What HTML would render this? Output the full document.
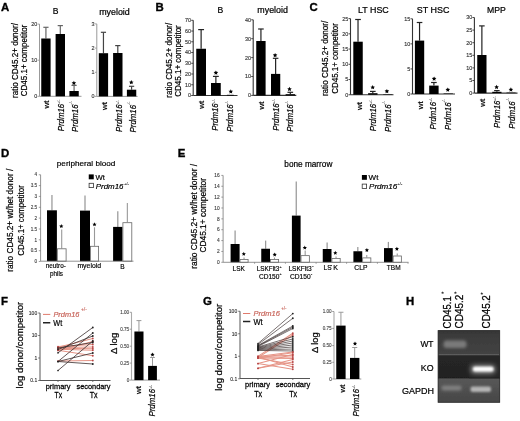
<!DOCTYPE html>
<html><head><meta charset="utf-8"><style>
html,body{margin:0;padding:0;background:#fff;}
svg{display:block;will-change:transform;filter:blur(0.4px);}
text{font-family:"Liberation Sans", sans-serif;}
</style></head><body>
<svg width="520" height="421" viewBox="0 0 520 421">
<rect width="520" height="421" fill="#fff"/>
<text x="1" y="11.2" font-size="11.4" stroke="#000" stroke-width="0.35" font-weight="bold" >A</text>
<text x="155.4" y="10.9" font-size="11.4" stroke="#000" stroke-width="0.35" font-weight="bold" >B</text>
<text x="309.6" y="10.9" font-size="11.4" stroke="#000" stroke-width="0.35" font-weight="bold" >C</text>
<text x="1" y="157.2" font-size="11.4" stroke="#000" stroke-width="0.35" font-weight="bold" >D</text>
<text x="177.8" y="157.3" font-size="11.4" stroke="#000" stroke-width="0.35" font-weight="bold" >E</text>
<text x="1" y="305.2" font-size="11.4" stroke="#000" stroke-width="0.35" font-weight="bold" >F</text>
<text x="203" y="305.4" font-size="11.4" stroke="#000" stroke-width="0.35" font-weight="bold" >G</text>
<text x="406" y="305.2" font-size="11.4" stroke="#000" stroke-width="0.35" font-weight="bold" >H</text>
<text transform="translate(18.3,60.5) rotate(-90)" font-size="9" stroke="#000" stroke-width="0.22" text-anchor="middle" textLength="75" lengthAdjust="spacingAndGlyphs">ratio CD45.2+ donor/</text>
<text transform="translate(27.4,60.5) rotate(-90)" font-size="9" stroke="#000" stroke-width="0.22" text-anchor="middle" textLength="71.6" lengthAdjust="spacingAndGlyphs">CD45.1+ competitor</text>
<text x="52.8" y="13.6" font-size="8.6" stroke="#000" stroke-width="0.21" >B</text>
<line x1="39.5" y1="24.1" x2="39.5" y2="96.3" stroke="#999" stroke-width="1.0" />
<line x1="37.5" y1="24.1" x2="39.5" y2="24.1" stroke="#999" stroke-width="0.9" />
<text x="37.3" y="26" font-size="5.4" stroke="#333" stroke-width="0.13" text-anchor="end" fill="#333" >20</text>
<line x1="37.5" y1="60.2" x2="39.5" y2="60.2" stroke="#999" stroke-width="0.9" />
<text x="37.3" y="62.1" font-size="5.4" stroke="#333" stroke-width="0.13" text-anchor="end" fill="#333" >10</text>
<line x1="37.5" y1="96.3" x2="39.5" y2="96.3" stroke="#999" stroke-width="0.9" />
<text x="37.3" y="98.2" font-size="5.4" stroke="#333" stroke-width="0.13" text-anchor="end" fill="#333" >0</text>
<line x1="39.5" y1="96.3" x2="81.5" y2="96.3" stroke="#999" stroke-width="1.0" />
<line x1="45.92" y1="27.3" x2="45.92" y2="38.5" stroke="#666" stroke-width="1.2" />
<line x1="43.31" y1="27.3" x2="48.54" y2="27.3" stroke="#666" stroke-width="1.2" />
<rect x="41.25" y="38.5" width="9.35" height="57.8" fill="#000"/>
<line x1="60.3" y1="25.6" x2="60.3" y2="34" stroke="#666" stroke-width="1.2" />
<line x1="57.67" y1="25.6" x2="62.93" y2="25.6" stroke="#666" stroke-width="1.2" />
<rect x="55.6" y="34" width="9.4" height="62.3" fill="#000"/>
<line x1="74.08" y1="85.4" x2="74.08" y2="91" stroke="#666" stroke-width="1.2" />
<line x1="71.46" y1="85.4" x2="76.69" y2="85.4" stroke="#666" stroke-width="1.2" />
<rect x="69.4" y="91" width="9.35" height="5.3" fill="#000"/>
<polygon points="73.9,80.7 74.58,82.17 76.18,82.36 75,83.46 75.31,85.04 73.9,84.25 72.49,85.04 72.8,83.46 71.62,82.36 73.22,82.17" fill="#000"/>
<text x="99.2" y="14.6" font-size="9" stroke="#000" stroke-width="0.22" textLength="30.6" lengthAdjust="spacingAndGlyphs" >myeloid</text>
<line x1="96.8" y1="23.9" x2="96.8" y2="96.4" stroke="#999" stroke-width="1.0" />
<line x1="94.8" y1="23.9" x2="96.8" y2="23.9" stroke="#999" stroke-width="0.9" />
<text x="94.6" y="25.8" font-size="5.4" stroke="#333" stroke-width="0.13" text-anchor="end" fill="#333" >3</text>
<line x1="94.8" y1="48.1" x2="96.8" y2="48.1" stroke="#999" stroke-width="0.9" />
<text x="94.6" y="50" font-size="5.4" stroke="#333" stroke-width="0.13" text-anchor="end" fill="#333" >2</text>
<line x1="94.8" y1="72.3" x2="96.8" y2="72.3" stroke="#999" stroke-width="0.9" />
<text x="94.6" y="74.2" font-size="5.4" stroke="#333" stroke-width="0.13" text-anchor="end" fill="#333" >1</text>
<line x1="94.8" y1="96.4" x2="96.8" y2="96.4" stroke="#999" stroke-width="0.9" />
<text x="94.6" y="98.3" font-size="5.4" stroke="#333" stroke-width="0.13" text-anchor="end" fill="#333" >0</text>
<line x1="96.8" y1="96.4" x2="137.6" y2="96.4" stroke="#999" stroke-width="1.0" />
<line x1="103.45" y1="32.3" x2="103.45" y2="53.2" stroke="#444" stroke-width="1.2" />
<line x1="100.85" y1="32.3" x2="106.05" y2="32.3" stroke="#444" stroke-width="1.2" />
<rect x="98.8" y="53.2" width="9.3" height="43.2" fill="#000"/>
<line x1="117.8" y1="45.6" x2="117.8" y2="53" stroke="#444" stroke-width="1.2" />
<line x1="115.17" y1="45.6" x2="120.43" y2="45.6" stroke="#444" stroke-width="1.2" />
<rect x="113.1" y="53" width="9.4" height="43.4" fill="#000"/>
<line x1="131.57" y1="86.3" x2="131.57" y2="89.7" stroke="#444" stroke-width="1.2" />
<line x1="128.96" y1="86.3" x2="134.19" y2="86.3" stroke="#444" stroke-width="1.2" />
<rect x="126.9" y="89.7" width="9.35" height="6.7" fill="#000"/>
<polygon points="131.3,80 131.98,81.47 133.58,81.66 132.4,82.76 132.71,84.34 131.3,83.55 129.89,84.34 130.2,82.76 129.02,81.66 130.62,81.47" fill="#000"/>
<text transform="translate(48.7,100.6) rotate(-90)" font-size="7.83" stroke="#000" stroke-width="0.19" text-anchor="end" textLength="8" lengthAdjust="spacingAndGlyphs">wt</text>
<text transform="translate(63.6,131.3) rotate(-90)" font-size="8.6" stroke="#000" stroke-width="0.21" font-style="italic" textLength="27.5" lengthAdjust="spacingAndGlyphs">Prdm16</text>
<text transform="translate(59.8,103.9) rotate(-90)" font-size="3.6" stroke="#333" stroke-width="0.09" fill="#333">+/-</text>
<text transform="translate(78,131.9) rotate(-90)" font-size="8.6" stroke="#000" stroke-width="0.21" font-style="italic" textLength="27.5" lengthAdjust="spacingAndGlyphs">Prdm16</text>
<text transform="translate(72.2,104.5) rotate(-90)" font-size="3.6" stroke="#333" stroke-width="0.09" fill="#333">-/-</text>
<text transform="translate(107.4,101.9) rotate(-90)" font-size="7.83" stroke="#000" stroke-width="0.19" text-anchor="end" textLength="8" lengthAdjust="spacingAndGlyphs">wt</text>
<text transform="translate(122.4,131.9) rotate(-90)" font-size="8.6" stroke="#000" stroke-width="0.21" font-style="italic" textLength="27.5" lengthAdjust="spacingAndGlyphs">Prdm16</text>
<text transform="translate(118.6,104.5) rotate(-90)" font-size="3.6" stroke="#333" stroke-width="0.09" fill="#333">+/-</text>
<text transform="translate(136.2,132.4) rotate(-90)" font-size="8.6" stroke="#000" stroke-width="0.21" font-style="italic" textLength="27.5" lengthAdjust="spacingAndGlyphs">Prdm16</text>
<text transform="translate(130.4,105) rotate(-90)" font-size="3.6" stroke="#333" stroke-width="0.09" fill="#333">-/-</text>
<text transform="translate(172,60.2) rotate(-90)" font-size="8.6" stroke="#000" stroke-width="0.21" text-anchor="middle" textLength="75" lengthAdjust="spacingAndGlyphs">ratio CD45.2+ donor/</text>
<text transform="translate(181,61) rotate(-90)" font-size="8.6" stroke="#000" stroke-width="0.21" text-anchor="middle" textLength="71.6" lengthAdjust="spacingAndGlyphs">CD45.1+ competitor</text>
<text x="217.6" y="12.6" font-size="8.6" stroke="#000" stroke-width="0.21" >B</text>
<line x1="193.2" y1="20.3" x2="193.2" y2="95.5" stroke="#333" stroke-width="1.1" />
<line x1="191.2" y1="20.3" x2="193.2" y2="20.3" stroke="#333" stroke-width="0.9" />
<text x="191" y="22.2" font-size="5.4" stroke="#333" stroke-width="0.13" text-anchor="end" fill="#333" >70</text>
<line x1="191.2" y1="31.04" x2="193.2" y2="31.04" stroke="#333" stroke-width="0.9" />
<text x="191" y="32.94" font-size="5.4" stroke="#333" stroke-width="0.13" text-anchor="end" fill="#333" >60</text>
<line x1="191.2" y1="41.79" x2="193.2" y2="41.79" stroke="#333" stroke-width="0.9" />
<text x="191" y="43.69" font-size="5.4" stroke="#333" stroke-width="0.13" text-anchor="end" fill="#333" >50</text>
<line x1="191.2" y1="52.53" x2="193.2" y2="52.53" stroke="#333" stroke-width="0.9" />
<text x="191" y="54.43" font-size="5.4" stroke="#333" stroke-width="0.13" text-anchor="end" fill="#333" >40</text>
<line x1="191.2" y1="63.27" x2="193.2" y2="63.27" stroke="#333" stroke-width="0.9" />
<text x="191" y="65.17" font-size="5.4" stroke="#333" stroke-width="0.13" text-anchor="end" fill="#333" >30</text>
<line x1="191.2" y1="74.01" x2="193.2" y2="74.01" stroke="#333" stroke-width="0.9" />
<text x="191" y="75.91" font-size="5.4" stroke="#333" stroke-width="0.13" text-anchor="end" fill="#333" >20</text>
<line x1="191.2" y1="84.76" x2="193.2" y2="84.76" stroke="#333" stroke-width="0.9" />
<text x="191" y="86.66" font-size="5.4" stroke="#333" stroke-width="0.13" text-anchor="end" fill="#333" >10</text>
<line x1="191.2" y1="95.5" x2="193.2" y2="95.5" stroke="#333" stroke-width="0.9" />
<text x="191" y="97.4" font-size="5.4" stroke="#333" stroke-width="0.13" text-anchor="end" fill="#333" >0</text>
<line x1="193.2" y1="95.5" x2="237.5" y2="95.5" stroke="#333" stroke-width="1.1" />
<line x1="201.12" y1="29.6" x2="201.12" y2="48.75" stroke="#222" stroke-width="1.2" />
<line x1="198.2" y1="29.6" x2="204.05" y2="29.6" stroke="#222" stroke-width="1.2" />
<rect x="196.25" y="48.75" width="9.75" height="46.75" fill="#000"/>
<line x1="215.88" y1="76.4" x2="215.88" y2="83" stroke="#222" stroke-width="1.2" />
<line x1="212.95" y1="76.4" x2="218.8" y2="76.4" stroke="#222" stroke-width="1.2" />
<rect x="211" y="83" width="9.75" height="12.5" fill="#000"/>
<polygon points="215.9,70.4 216.58,71.87 218.18,72.06 217,73.16 217.31,74.74 215.9,73.95 214.49,74.74 214.8,73.16 213.62,72.06 215.22,71.87" fill="#000"/>
<rect x="226.9" y="94.8" width="6.85" height="0.7" fill="#000"/>
<polygon points="230.8,89.2 231.48,90.67 233.08,90.86 231.9,91.96 232.21,93.54 230.8,92.75 229.39,93.54 229.7,91.96 228.52,90.86 230.12,90.67" fill="#000"/>
<text x="257.3" y="13.2" font-size="9" stroke="#000" stroke-width="0.22" textLength="30.6" lengthAdjust="spacingAndGlyphs" >myeloid</text>
<line x1="253.2" y1="19.8" x2="253.2" y2="95.4" stroke="#333" stroke-width="1.1" />
<line x1="251.2" y1="19.8" x2="253.2" y2="19.8" stroke="#333" stroke-width="0.9" />
<text x="251" y="21.7" font-size="5.4" stroke="#333" stroke-width="0.13" text-anchor="end" fill="#333" >40</text>
<line x1="251.2" y1="38.7" x2="253.2" y2="38.7" stroke="#333" stroke-width="0.9" />
<text x="251" y="40.6" font-size="5.4" stroke="#333" stroke-width="0.13" text-anchor="end" fill="#333" >30</text>
<line x1="251.2" y1="57.6" x2="253.2" y2="57.6" stroke="#333" stroke-width="0.9" />
<text x="251" y="59.5" font-size="5.4" stroke="#333" stroke-width="0.13" text-anchor="end" fill="#333" >20</text>
<line x1="251.2" y1="76.5" x2="253.2" y2="76.5" stroke="#333" stroke-width="0.9" />
<text x="251" y="78.4" font-size="5.4" stroke="#333" stroke-width="0.13" text-anchor="end" fill="#333" >10</text>
<line x1="251.2" y1="95.4" x2="253.2" y2="95.4" stroke="#333" stroke-width="0.9" />
<text x="251" y="97.3" font-size="5.4" stroke="#333" stroke-width="0.13" text-anchor="end" fill="#333" >0</text>
<line x1="253.2" y1="95.4" x2="296.3" y2="95.4" stroke="#333" stroke-width="1.1" />
<line x1="260.93" y1="29" x2="260.93" y2="41" stroke="#222" stroke-width="1.2" />
<line x1="258.12" y1="29" x2="263.73" y2="29" stroke="#222" stroke-width="1.2" />
<rect x="256.25" y="41" width="9.35" height="54.4" fill="#000"/>
<line x1="275.62" y1="58.3" x2="275.62" y2="73.9" stroke="#222" stroke-width="1.2" />
<line x1="272.85" y1="58.3" x2="278.4" y2="58.3" stroke="#222" stroke-width="1.2" />
<rect x="271" y="73.9" width="9.25" height="21.5" fill="#000"/>
<polygon points="275.1,52.9 275.78,54.37 277.38,54.56 276.2,55.66 276.51,57.24 275.1,56.45 273.69,57.24 274,55.66 272.82,54.56 274.42,54.37" fill="#000"/>
<line x1="290.3" y1="92.3" x2="290.3" y2="94.2" stroke="#222" stroke-width="1.2" />
<line x1="287.48" y1="92.3" x2="293.12" y2="92.3" stroke="#222" stroke-width="1.2" />
<rect x="285.6" y="94.2" width="9.4" height="1.2" fill="#000"/>
<polygon points="289.5,86.8 290.18,88.27 291.78,88.46 290.6,89.56 290.91,91.14 289.5,90.35 288.09,91.14 288.4,89.56 287.22,88.46 288.82,88.27" fill="#000"/>
<text transform="translate(204,100.8) rotate(-90)" font-size="7.83" stroke="#000" stroke-width="0.19" text-anchor="end" textLength="8" lengthAdjust="spacingAndGlyphs">wt</text>
<text transform="translate(218.4,130.8) rotate(-90)" font-size="8.6" stroke="#000" stroke-width="0.21" font-style="italic" textLength="27.5" lengthAdjust="spacingAndGlyphs">Prdm16</text>
<text transform="translate(214.6,103.4) rotate(-90)" font-size="3.6" stroke="#333" stroke-width="0.09" fill="#333">+/-</text>
<text transform="translate(233.4,131.8) rotate(-90)" font-size="8.6" stroke="#000" stroke-width="0.21" font-style="italic" textLength="27.5" lengthAdjust="spacingAndGlyphs">Prdm16</text>
<text transform="translate(227.6,104.4) rotate(-90)" font-size="3.6" stroke="#333" stroke-width="0.09" fill="#333">-/-</text>
<text transform="translate(264.3,101.4) rotate(-90)" font-size="7.83" stroke="#000" stroke-width="0.19" text-anchor="end" textLength="8" lengthAdjust="spacingAndGlyphs">wt</text>
<text transform="translate(278.9,130.8) rotate(-90)" font-size="8.6" stroke="#000" stroke-width="0.21" font-style="italic" textLength="27.5" lengthAdjust="spacingAndGlyphs">Prdm16</text>
<text transform="translate(275.1,103.4) rotate(-90)" font-size="3.6" stroke="#333" stroke-width="0.09" fill="#333">+/-</text>
<text transform="translate(293.4,131.8) rotate(-90)" font-size="8.6" stroke="#000" stroke-width="0.21" font-style="italic" textLength="27.5" lengthAdjust="spacingAndGlyphs">Prdm16</text>
<text transform="translate(287.6,104.4) rotate(-90)" font-size="3.6" stroke="#333" stroke-width="0.09" fill="#333">-/-</text>
<text transform="translate(327.9,58.4) rotate(-90)" font-size="9" stroke="#000" stroke-width="0.22" text-anchor="middle" textLength="75.4" lengthAdjust="spacingAndGlyphs">ratio CD45.2+ donor/</text>
<text transform="translate(338.3,58.4) rotate(-90)" font-size="9" stroke="#000" stroke-width="0.22" text-anchor="middle" textLength="70.6" lengthAdjust="spacingAndGlyphs">CD45.1+ competitor</text>
<text x="358" y="13.1" font-size="9" stroke="#000" stroke-width="0.22" textLength="30.7" lengthAdjust="spacingAndGlyphs" >LT HSC</text>
<line x1="350.5" y1="18.6" x2="350.5" y2="94.75" stroke="#333" stroke-width="1.1" />
<line x1="348.5" y1="18.6" x2="350.5" y2="18.6" stroke="#333" stroke-width="0.9" />
<text x="348.3" y="20.5" font-size="5.4" stroke="#333" stroke-width="0.13" text-anchor="end" fill="#333" >25</text>
<line x1="348.5" y1="33.83" x2="350.5" y2="33.83" stroke="#333" stroke-width="0.9" />
<text x="348.3" y="35.73" font-size="5.4" stroke="#333" stroke-width="0.13" text-anchor="end" fill="#333" >20</text>
<line x1="348.5" y1="49.06" x2="350.5" y2="49.06" stroke="#333" stroke-width="0.9" />
<text x="348.3" y="50.96" font-size="5.4" stroke="#333" stroke-width="0.13" text-anchor="end" fill="#333" >15</text>
<line x1="348.5" y1="64.29" x2="350.5" y2="64.29" stroke="#333" stroke-width="0.9" />
<text x="348.3" y="66.19" font-size="5.4" stroke="#333" stroke-width="0.13" text-anchor="end" fill="#333" >10</text>
<line x1="348.5" y1="79.52" x2="350.5" y2="79.52" stroke="#333" stroke-width="0.9" />
<text x="348.3" y="81.42" font-size="5.4" stroke="#333" stroke-width="0.13" text-anchor="end" fill="#333" >5</text>
<line x1="348.5" y1="94.75" x2="350.5" y2="94.75" stroke="#333" stroke-width="0.9" />
<text x="348.3" y="96.65" font-size="5.4" stroke="#333" stroke-width="0.13" text-anchor="end" fill="#333" >0</text>
<line x1="350.5" y1="94.75" x2="393.5" y2="94.75" stroke="#333" stroke-width="1.1" />
<line x1="358.02" y1="19.5" x2="358.02" y2="41.7" stroke="#222" stroke-width="1.2" />
<line x1="355.19" y1="19.5" x2="360.86" y2="19.5" stroke="#222" stroke-width="1.2" />
<rect x="353.3" y="41.7" width="9.45" height="53.05" fill="#000"/>
<line x1="372.8" y1="91.4" x2="372.8" y2="93.2" stroke="#222" stroke-width="1.2" />
<line x1="369.98" y1="91.4" x2="375.62" y2="91.4" stroke="#222" stroke-width="1.2" />
<rect x="368.1" y="93.2" width="9.4" height="1.55" fill="#000"/>
<polygon points="372.7,85 373.38,86.47 374.98,86.66 373.8,87.76 374.11,89.34 372.7,88.55 371.29,89.34 371.6,87.76 370.42,86.66 372.02,86.47" fill="#000"/>
<rect x="383.2" y="94.3" width="9.2" height="0.45" fill="#000"/>
<polygon points="386.9,88.9 387.58,90.37 389.18,90.56 388,91.66 388.31,93.24 386.9,92.45 385.49,93.24 385.8,91.66 384.62,90.56 386.22,90.37" fill="#000"/>
<text x="416.8" y="13.1" font-size="9" stroke="#000" stroke-width="0.22" textLength="32.6" lengthAdjust="spacingAndGlyphs" >ST HSC</text>
<line x1="412.5" y1="18.8" x2="412.5" y2="94" stroke="#333" stroke-width="1.1" />
<line x1="410.5" y1="18.8" x2="412.5" y2="18.8" stroke="#333" stroke-width="0.9" />
<text x="410.3" y="20.7" font-size="5.4" stroke="#333" stroke-width="0.13" text-anchor="end" fill="#333" >15</text>
<line x1="410.5" y1="43.87" x2="412.5" y2="43.87" stroke="#333" stroke-width="0.9" />
<text x="410.3" y="45.77" font-size="5.4" stroke="#333" stroke-width="0.13" text-anchor="end" fill="#333" >10</text>
<line x1="410.5" y1="68.93" x2="412.5" y2="68.93" stroke="#333" stroke-width="0.9" />
<text x="410.3" y="70.83" font-size="5.4" stroke="#333" stroke-width="0.13" text-anchor="end" fill="#333" >5</text>
<line x1="410.5" y1="94" x2="412.5" y2="94" stroke="#333" stroke-width="0.9" />
<text x="410.3" y="95.9" font-size="5.4" stroke="#333" stroke-width="0.13" text-anchor="end" fill="#333" >0</text>
<line x1="412.5" y1="94" x2="455" y2="94" stroke="#333" stroke-width="1.1" />
<line x1="419.55" y1="22.5" x2="419.55" y2="40.6" stroke="#222" stroke-width="1.2" />
<line x1="416.76" y1="22.5" x2="422.34" y2="22.5" stroke="#222" stroke-width="1.2" />
<rect x="414.9" y="40.6" width="9.3" height="53.4" fill="#000"/>
<line x1="433.9" y1="82.5" x2="433.9" y2="85.6" stroke="#222" stroke-width="1.2" />
<line x1="431.08" y1="82.5" x2="436.72" y2="82.5" stroke="#222" stroke-width="1.2" />
<rect x="429.2" y="85.6" width="9.4" height="8.4" fill="#000"/>
<polygon points="434.1,76.4 434.78,77.87 436.38,78.06 435.2,79.16 435.51,80.74 434.1,79.95 432.69,80.74 433,79.16 431.82,78.06 433.42,77.87" fill="#000"/>
<rect x="443.6" y="93.5" width="9.3" height="0.5" fill="#000"/>
<polygon points="447.8,87.4 448.48,88.87 450.08,89.06 448.9,90.16 449.21,91.74 447.8,90.95 446.39,91.74 446.7,90.16 445.52,89.06 447.12,88.87" fill="#000"/>
<text x="487.1" y="13.4" font-size="9" stroke="#000" stroke-width="0.22" textLength="18.8" lengthAdjust="spacingAndGlyphs" >MPP</text>
<line x1="474.4" y1="17.5" x2="474.4" y2="93.1" stroke="#333" stroke-width="1.1" />
<line x1="472.4" y1="17.5" x2="474.4" y2="17.5" stroke="#333" stroke-width="0.9" />
<text x="472.2" y="19.4" font-size="5.4" stroke="#333" stroke-width="0.13" text-anchor="end" fill="#333" >30</text>
<line x1="472.4" y1="30.1" x2="474.4" y2="30.1" stroke="#333" stroke-width="0.9" />
<text x="472.2" y="32" font-size="5.4" stroke="#333" stroke-width="0.13" text-anchor="end" fill="#333" >25</text>
<line x1="472.4" y1="42.7" x2="474.4" y2="42.7" stroke="#333" stroke-width="0.9" />
<text x="472.2" y="44.6" font-size="5.4" stroke="#333" stroke-width="0.13" text-anchor="end" fill="#333" >20</text>
<line x1="472.4" y1="55.3" x2="474.4" y2="55.3" stroke="#333" stroke-width="0.9" />
<text x="472.2" y="57.2" font-size="5.4" stroke="#333" stroke-width="0.13" text-anchor="end" fill="#333" >15</text>
<line x1="472.4" y1="67.9" x2="474.4" y2="67.9" stroke="#333" stroke-width="0.9" />
<text x="472.2" y="69.8" font-size="5.4" stroke="#333" stroke-width="0.13" text-anchor="end" fill="#333" >10</text>
<line x1="472.4" y1="80.5" x2="474.4" y2="80.5" stroke="#333" stroke-width="0.9" />
<text x="472.2" y="82.4" font-size="5.4" stroke="#333" stroke-width="0.13" text-anchor="end" fill="#333" >5</text>
<line x1="472.4" y1="93.1" x2="474.4" y2="93.1" stroke="#333" stroke-width="0.9" />
<text x="472.2" y="95" font-size="5.4" stroke="#333" stroke-width="0.13" text-anchor="end" fill="#333" >0</text>
<line x1="474.4" y1="93.1" x2="517.5" y2="93.1" stroke="#333" stroke-width="1.1" />
<line x1="481.88" y1="25.9" x2="481.88" y2="55" stroke="#222" stroke-width="1.2" />
<line x1="479.1" y1="25.9" x2="484.65" y2="25.9" stroke="#222" stroke-width="1.2" />
<rect x="477.25" y="55" width="9.25" height="38.1" fill="#000"/>
<line x1="496.88" y1="90.6" x2="496.88" y2="91.8" stroke="#222" stroke-width="1.2" />
<line x1="494.1" y1="90.6" x2="499.65" y2="90.6" stroke="#222" stroke-width="1.2" />
<rect x="492.25" y="91.8" width="9.25" height="1.3" fill="#000"/>
<polygon points="496.6,84.8 497.28,86.27 498.88,86.46 497.7,87.56 498.01,89.14 496.6,88.35 495.19,89.14 495.5,87.56 494.32,86.46 495.92,86.27" fill="#000"/>
<rect x="506.5" y="92.6" width="9.1" height="0.5" fill="#000"/>
<polygon points="510.9,87.3 511.58,88.77 513.18,88.96 512,90.06 512.31,91.64 510.9,90.85 509.49,91.64 509.8,90.06 508.62,88.96 510.22,88.77" fill="#000"/>
<text transform="translate(362.4,101.9) rotate(-90)" font-size="7.83" stroke="#000" stroke-width="0.19" text-anchor="end" textLength="8" lengthAdjust="spacingAndGlyphs">wt</text>
<text transform="translate(375.9,131.3) rotate(-90)" font-size="8.6" stroke="#000" stroke-width="0.21" font-style="italic" textLength="27.5" lengthAdjust="spacingAndGlyphs">Prdm16</text>
<text transform="translate(372.1,103.9) rotate(-90)" font-size="3.6" stroke="#333" stroke-width="0.09" fill="#333">+/-</text>
<text transform="translate(390.9,131.9) rotate(-90)" font-size="8.6" stroke="#000" stroke-width="0.21" font-style="italic" textLength="27.5" lengthAdjust="spacingAndGlyphs">Prdm16</text>
<text transform="translate(385.1,104.5) rotate(-90)" font-size="3.6" stroke="#333" stroke-width="0.09" fill="#333">-/-</text>
<text transform="translate(423,101.3) rotate(-90)" font-size="7.83" stroke="#000" stroke-width="0.19" text-anchor="end" textLength="8" lengthAdjust="spacingAndGlyphs">wt</text>
<text transform="translate(436.2,129.4) rotate(-90)" font-size="8.6" stroke="#000" stroke-width="0.21" font-style="italic" textLength="27.5" lengthAdjust="spacingAndGlyphs">Prdm16</text>
<text transform="translate(432.4,102) rotate(-90)" font-size="3.6" stroke="#333" stroke-width="0.09" fill="#333">+/-</text>
<text transform="translate(450.9,130) rotate(-90)" font-size="8.6" stroke="#000" stroke-width="0.21" font-style="italic" textLength="27.5" lengthAdjust="spacingAndGlyphs">Prdm16</text>
<text transform="translate(445.1,102.6) rotate(-90)" font-size="3.6" stroke="#333" stroke-width="0.09" fill="#333">-/-</text>
<text transform="translate(484.9,98.8) rotate(-90)" font-size="7.83" stroke="#000" stroke-width="0.19" text-anchor="end" textLength="8" lengthAdjust="spacingAndGlyphs">wt</text>
<text transform="translate(500.2,128.1) rotate(-90)" font-size="8.6" stroke="#000" stroke-width="0.21" font-style="italic" textLength="27.5" lengthAdjust="spacingAndGlyphs">Prdm16</text>
<text transform="translate(496.4,100.7) rotate(-90)" font-size="3.6" stroke="#333" stroke-width="0.09" fill="#333">+/-</text>
<text transform="translate(514.7,128.8) rotate(-90)" font-size="8.6" stroke="#000" stroke-width="0.21" font-style="italic" textLength="27.5" lengthAdjust="spacingAndGlyphs">Prdm16</text>
<text transform="translate(508.9,101.4) rotate(-90)" font-size="3.6" stroke="#333" stroke-width="0.09" fill="#333">-/-</text>
<text transform="translate(12.9,220.3) rotate(-90)" font-size="9.2" stroke="#000" stroke-width="0.22" text-anchor="middle" textLength="103" lengthAdjust="spacingAndGlyphs">ratio CD45.2+ wt/het donor /</text>
<text transform="translate(23.5,220.5) rotate(-90)" font-size="8.8" stroke="#000" stroke-width="0.21" text-anchor="middle" textLength="70.6" lengthAdjust="spacingAndGlyphs">CD45.1+ competitor</text>
<text x="56.8" y="165.5" font-size="7.6" stroke="#000" stroke-width="0.18" textLength="58.6" lengthAdjust="spacingAndGlyphs" >peripheral blood</text>
<rect x="88.75" y="174.4" width="5" height="4.9" fill="#000"/>
<rect x="89.1" y="183.3" width="4.3" height="4.3" fill="#fff" stroke="#333" stroke-width="0.8"/>
<text x="95.5" y="179.5" font-size="7.6" stroke="#000" stroke-width="0.18" textLength="9.4" lengthAdjust="spacingAndGlyphs" >Wt</text>
<text x="95.8" y="188.5" font-size="7.9" stroke="#000" stroke-width="0.19" font-style="italic" textLength="27.7" lengthAdjust="spacingAndGlyphs" >Prdm16</text>
<text x="124.2" y="185.1" font-size="4" stroke="#333" stroke-width="0.1" fill="#333" textLength="4.6" lengthAdjust="spacingAndGlyphs" >+/-</text>
<line x1="40.6" y1="174.75" x2="40.6" y2="261.2" stroke="#777" stroke-width="0.8" />
<line x1="38.8" y1="174.75" x2="40.6" y2="174.75" stroke="#777" stroke-width="0.7" />
<text x="37.1" y="176.45" font-size="4.6" stroke="#3a3a3a" stroke-width="0.11" text-anchor="end" fill="#3a3a3a" >4</text>
<line x1="38.8" y1="185.6" x2="40.6" y2="185.6" stroke="#777" stroke-width="0.7" />
<text x="37.1" y="187.3" font-size="4.6" stroke="#3a3a3a" stroke-width="0.11" text-anchor="end" fill="#3a3a3a" >3.5</text>
<line x1="38.8" y1="196.4" x2="40.6" y2="196.4" stroke="#777" stroke-width="0.7" />
<text x="37.1" y="198.1" font-size="4.6" stroke="#3a3a3a" stroke-width="0.11" text-anchor="end" fill="#3a3a3a" >3</text>
<line x1="38.8" y1="207.3" x2="40.6" y2="207.3" stroke="#777" stroke-width="0.7" />
<text x="37.1" y="209" font-size="4.6" stroke="#3a3a3a" stroke-width="0.11" text-anchor="end" fill="#3a3a3a" >2.5</text>
<line x1="38.8" y1="218.1" x2="40.6" y2="218.1" stroke="#777" stroke-width="0.7" />
<text x="37.1" y="219.8" font-size="4.6" stroke="#3a3a3a" stroke-width="0.11" text-anchor="end" fill="#3a3a3a" >2</text>
<line x1="38.8" y1="229" x2="40.6" y2="229" stroke="#777" stroke-width="0.7" />
<text x="37.1" y="230.7" font-size="4.6" stroke="#3a3a3a" stroke-width="0.11" text-anchor="end" fill="#3a3a3a" >1.5</text>
<line x1="38.8" y1="239.8" x2="40.6" y2="239.8" stroke="#777" stroke-width="0.7" />
<text x="37.1" y="241.5" font-size="4.6" stroke="#3a3a3a" stroke-width="0.11" text-anchor="end" fill="#3a3a3a" >1</text>
<line x1="38.8" y1="250.7" x2="40.6" y2="250.7" stroke="#777" stroke-width="0.7" />
<text x="37.1" y="252.4" font-size="4.6" stroke="#3a3a3a" stroke-width="0.11" text-anchor="end" fill="#3a3a3a" >0.5</text>
<line x1="38.8" y1="261.5" x2="40.6" y2="261.5" stroke="#777" stroke-width="0.7" />
<text x="37.1" y="263.2" font-size="4.6" stroke="#3a3a3a" stroke-width="0.11" text-anchor="end" fill="#3a3a3a" >0</text>
<line x1="51.95" y1="195" x2="51.95" y2="210.3" stroke="#999" stroke-width="1.25" />
<line x1="61.7" y1="229.4" x2="61.7" y2="248.4" stroke="#999" stroke-width="1.1" />
<rect x="47" y="210.3" width="9.9" height="50.9" fill="#000"/>
<rect x="57.3" y="248.8" width="8.8" height="12.4" fill="#fff" stroke="#666" stroke-width="0.8"/>
<polygon points="61.3,224.1 61.92,225.45 63.39,225.62 62.3,226.63 62.59,228.08 61.3,227.36 60.01,228.08 60.3,226.63 59.21,225.62 60.68,225.45" fill="#000"/>
<line x1="85" y1="195.4" x2="85" y2="210.6" stroke="#999" stroke-width="1.25" />
<line x1="94.5" y1="227.3" x2="94.5" y2="245.9" stroke="#999" stroke-width="1.1" />
<rect x="80" y="210.6" width="10" height="50.6" fill="#000"/>
<rect x="90.4" y="246.3" width="8.2" height="14.9" fill="#fff" stroke="#666" stroke-width="0.8"/>
<polygon points="94.5,222.3 95.12,223.65 96.59,223.82 95.5,224.83 95.79,226.28 94.5,225.56 93.21,226.28 93.5,224.83 92.41,223.82 93.88,223.65" fill="#000"/>
<line x1="117.8" y1="211.3" x2="117.8" y2="226.9" stroke="#999" stroke-width="1.25" />
<line x1="127.35" y1="203.1" x2="127.35" y2="222.3" stroke="#999" stroke-width="1.1" />
<rect x="113.1" y="226.9" width="9.4" height="34.3" fill="#000"/>
<rect x="122.9" y="222.7" width="8.9" height="38.5" fill="#fff" stroke="#666" stroke-width="0.8"/>
<line x1="40.6" y1="261.2" x2="133.5" y2="261.2" stroke="#777" stroke-width="0.8" />
<text x="45.7" y="268.4" font-size="6.6" stroke="#000" stroke-width="0.16" textLength="20.2" lengthAdjust="spacingAndGlyphs" >neutro-</text>
<text x="50" y="275.5" font-size="6.6" stroke="#000" stroke-width="0.16" textLength="13" lengthAdjust="spacingAndGlyphs" >phils</text>
<text x="77.4" y="268.4" font-size="6.7" stroke="#000" stroke-width="0.16" textLength="23.7" lengthAdjust="spacingAndGlyphs" >myeloid</text>
<text x="120.2" y="268.6" font-size="6.6" stroke="#000" stroke-width="0.16" >B</text>
<text transform="translate(196.6,216.3) rotate(-90)" font-size="9.4" stroke="#000" stroke-width="0.23" text-anchor="middle" textLength="105" lengthAdjust="spacingAndGlyphs">ratio CD45.2+ wt/het donor /</text>
<text transform="translate(206.4,215.3) rotate(-90)" font-size="9.2" stroke="#000" stroke-width="0.22" text-anchor="middle" textLength="74.5" lengthAdjust="spacingAndGlyphs">CD45.1+ competitor</text>
<text x="284.3" y="167.2" font-size="8.2" stroke="#000" stroke-width="0.2" textLength="48.1" lengthAdjust="spacingAndGlyphs" >bone marrow</text>
<rect x="361.9" y="175" width="5" height="4.8" fill="#000"/>
<rect x="362.2" y="184.1" width="4.4" height="4.3" fill="#fff" stroke="#333" stroke-width="0.8"/>
<text x="368.6" y="179.8" font-size="7.6" stroke="#000" stroke-width="0.18" textLength="9.8" lengthAdjust="spacingAndGlyphs" >Wt</text>
<text x="369" y="188.8" font-size="8" stroke="#000" stroke-width="0.19" font-style="italic" textLength="28.3" lengthAdjust="spacingAndGlyphs" >Prdm16</text>
<text x="397.6" y="185.4" font-size="4" stroke="#333" stroke-width="0.1" fill="#333" textLength="4.6" lengthAdjust="spacingAndGlyphs" >+/-</text>
<line x1="223.1" y1="175.4" x2="223.1" y2="262.3" stroke="#777" stroke-width="0.8" />
<line x1="221.3" y1="175.4" x2="223.1" y2="175.4" stroke="#777" stroke-width="0.7" />
<text x="219.6" y="177.1" font-size="4.8" stroke="#3a3a3a" stroke-width="0.12" text-anchor="end" fill="#3a3a3a" >16</text>
<line x1="221.3" y1="186.26" x2="223.1" y2="186.26" stroke="#777" stroke-width="0.7" />
<text x="219.6" y="187.96" font-size="4.8" stroke="#3a3a3a" stroke-width="0.12" text-anchor="end" fill="#3a3a3a" >14</text>
<line x1="221.3" y1="197.12" x2="223.1" y2="197.12" stroke="#777" stroke-width="0.7" />
<text x="219.6" y="198.82" font-size="4.8" stroke="#3a3a3a" stroke-width="0.12" text-anchor="end" fill="#3a3a3a" >12</text>
<line x1="221.3" y1="207.99" x2="223.1" y2="207.99" stroke="#777" stroke-width="0.7" />
<text x="219.6" y="209.69" font-size="4.8" stroke="#3a3a3a" stroke-width="0.12" text-anchor="end" fill="#3a3a3a" >10</text>
<line x1="221.3" y1="218.85" x2="223.1" y2="218.85" stroke="#777" stroke-width="0.7" />
<text x="219.6" y="220.55" font-size="4.8" stroke="#3a3a3a" stroke-width="0.12" text-anchor="end" fill="#3a3a3a" >8</text>
<line x1="221.3" y1="229.71" x2="223.1" y2="229.71" stroke="#777" stroke-width="0.7" />
<text x="219.6" y="231.41" font-size="4.8" stroke="#3a3a3a" stroke-width="0.12" text-anchor="end" fill="#3a3a3a" >6</text>
<line x1="221.3" y1="240.58" x2="223.1" y2="240.58" stroke="#777" stroke-width="0.7" />
<text x="219.6" y="242.28" font-size="4.8" stroke="#3a3a3a" stroke-width="0.12" text-anchor="end" fill="#3a3a3a" >4</text>
<line x1="221.3" y1="251.44" x2="223.1" y2="251.44" stroke="#777" stroke-width="0.7" />
<text x="219.6" y="253.14" font-size="4.8" stroke="#3a3a3a" stroke-width="0.12" text-anchor="end" fill="#3a3a3a" >2</text>
<line x1="221.3" y1="262.3" x2="223.1" y2="262.3" stroke="#777" stroke-width="0.7" />
<text x="219.6" y="264" font-size="4.8" stroke="#3a3a3a" stroke-width="0.12" text-anchor="end" fill="#3a3a3a" >0</text>
<line x1="235.1" y1="230.6" x2="235.1" y2="244" stroke="#999" stroke-width="1.25" />
<line x1="244.05" y1="257.5" x2="244.05" y2="259" stroke="#999" stroke-width="1.1" />
<rect x="230.6" y="244" width="9" height="18.3" fill="#000"/>
<rect x="240" y="259.4" width="8.1" height="2.9" fill="#fff" stroke="#666" stroke-width="0.8"/>
<polygon points="243.8,251.8 244.42,253.15 245.89,253.32 244.8,254.33 245.09,255.78 243.8,255.06 242.51,255.78 242.8,254.33 241.71,253.32 243.18,253.15" fill="#000"/>
<line x1="265.62" y1="240.6" x2="265.62" y2="248.75" stroke="#999" stroke-width="1.25" />
<line x1="274.5" y1="257.5" x2="274.5" y2="259" stroke="#999" stroke-width="1.1" />
<rect x="261.25" y="248.75" width="8.75" height="13.55" fill="#000"/>
<rect x="270.4" y="259.4" width="8.2" height="2.9" fill="#fff" stroke="#666" stroke-width="0.8"/>
<polygon points="274.7,252.5 275.32,253.85 276.79,254.02 275.7,255.03 275.99,256.48 274.7,255.76 273.41,256.48 273.7,255.03 272.61,254.02 274.08,253.85" fill="#000"/>
<line x1="296.25" y1="181.5" x2="296.25" y2="215.6" stroke="#999" stroke-width="1.25" />
<line x1="305.18" y1="250.6" x2="305.18" y2="255.25" stroke="#999" stroke-width="1.1" />
<rect x="291.9" y="215.6" width="8.7" height="46.7" fill="#000"/>
<rect x="301" y="255.65" width="8.35" height="6.65" fill="#fff" stroke="#666" stroke-width="0.8"/>
<polygon points="304.8,245.6 305.42,246.95 306.89,247.12 305.8,248.13 306.09,249.58 304.8,248.86 303.51,249.58 303.8,248.13 302.71,247.12 304.18,246.95" fill="#000"/>
<line x1="327.12" y1="242.5" x2="327.12" y2="249" stroke="#999" stroke-width="1.25" />
<line x1="336.05" y1="256.5" x2="336.05" y2="258.1" stroke="#999" stroke-width="1.1" />
<rect x="322.75" y="249" width="8.75" height="13.3" fill="#000"/>
<rect x="331.9" y="258.5" width="8.3" height="3.8" fill="#fff" stroke="#666" stroke-width="0.8"/>
<polygon points="335.3,250.8 335.92,252.15 337.39,252.32 336.3,253.33 336.59,254.78 335.3,254.06 334.01,254.78 334.3,253.33 333.21,252.32 334.68,252.15" fill="#000"/>
<line x1="357.82" y1="246.9" x2="357.82" y2="251.25" stroke="#999" stroke-width="1.25" />
<line x1="366.75" y1="255" x2="366.75" y2="257.5" stroke="#999" stroke-width="1.1" />
<rect x="353.4" y="251.25" width="8.85" height="11.05" fill="#000"/>
<rect x="362.65" y="257.9" width="8.2" height="4.4" fill="#fff" stroke="#666" stroke-width="0.8"/>
<polygon points="366.9,248 367.52,249.35 368.99,249.52 367.9,250.53 368.19,251.98 366.9,251.26 365.61,251.98 365.9,250.53 364.81,249.52 366.28,249.35" fill="#000"/>
<line x1="388.38" y1="241.9" x2="388.38" y2="248.1" stroke="#999" stroke-width="1.25" />
<line x1="397.25" y1="253.5" x2="397.25" y2="255.6" stroke="#999" stroke-width="1.1" />
<rect x="384" y="248.1" width="8.75" height="14.2" fill="#000"/>
<rect x="393.15" y="256" width="8.2" height="6.3" fill="#fff" stroke="#666" stroke-width="0.8"/>
<polygon points="396.9,246.7 397.52,248.05 398.99,248.22 397.9,249.23 398.19,250.68 396.9,249.96 395.61,250.68 395.9,249.23 394.81,248.22 396.28,248.05" fill="#000"/>
<line x1="223.1" y1="262.3" x2="408.5" y2="262.3" stroke="#777" stroke-width="0.8" />
<line x1="254.6" y1="262.3" x2="254.6" y2="263.8" stroke="#777" stroke-width="0.7" />
<line x1="285.4" y1="262.3" x2="285.4" y2="263.8" stroke="#777" stroke-width="0.7" />
<line x1="316.1" y1="262.3" x2="316.1" y2="263.8" stroke="#777" stroke-width="0.7" />
<line x1="346.6" y1="262.3" x2="346.6" y2="263.8" stroke="#777" stroke-width="0.7" />
<line x1="377.4" y1="262.3" x2="377.4" y2="263.8" stroke="#777" stroke-width="0.7" />
<line x1="408" y1="262.3" x2="408" y2="263.8" stroke="#777" stroke-width="0.7" />
<text x="232.6" y="270.6" font-size="6.6" stroke="#000" stroke-width="0.16" textLength="12.3" lengthAdjust="spacingAndGlyphs" >LSK</text>
<text x="256.8" y="270.6" font-size="6.6" stroke="#000" stroke-width="0.16" textLength="22.6" lengthAdjust="spacingAndGlyphs" >LSKFlt3</text>
<text x="279.6" y="267.6" font-size="3.6" stroke="#000" stroke-width="0.09" >+</text>
<text x="258.9" y="278.5" font-size="6.6" stroke="#000" stroke-width="0.16" textLength="20.5" lengthAdjust="spacingAndGlyphs" >CD150</text>
<text x="279.6" y="275.4" font-size="3.6" stroke="#000" stroke-width="0.09" >+</text>
<text x="288.4" y="270.6" font-size="6.6" stroke="#000" stroke-width="0.16" textLength="23.4" lengthAdjust="spacingAndGlyphs" >LSKFlt3</text>
<text x="312.2" y="267.2" font-size="3.8" stroke="#000" stroke-width="0.09" >-</text>
<text x="289.9" y="278.7" font-size="6.6" stroke="#000" stroke-width="0.16" textLength="20.7" lengthAdjust="spacingAndGlyphs" >CD150</text>
<text x="311" y="275" font-size="3.8" stroke="#000" stroke-width="0.09" >-</text>
<text x="323.6" y="269.8" font-size="6.6" stroke="#000" stroke-width="0.16" textLength="8" lengthAdjust="spacingAndGlyphs" >LS</text>
<text x="330.7" y="266.4" font-size="4.2" stroke="#000" stroke-width="0.1" >-</text>
<text x="333.2" y="269.8" font-size="6.6" stroke="#000" stroke-width="0.16" textLength="4.7" lengthAdjust="spacingAndGlyphs" >K</text>
<text x="354.3" y="269.8" font-size="6.5" stroke="#000" stroke-width="0.16" textLength="13.1" lengthAdjust="spacingAndGlyphs" >CLP</text>
<text x="386.8" y="269.8" font-size="6.5" stroke="#000" stroke-width="0.16" textLength="13.8" lengthAdjust="spacingAndGlyphs" >TBM</text>
<line x1="40" y1="313" x2="40" y2="380.5" stroke="#555" stroke-width="1.0" />
<line x1="38.2" y1="313" x2="40" y2="313" stroke="#555" stroke-width="0.8" />
<text x="37.2" y="314.8" font-size="5" stroke="#333" stroke-width="0.12" text-anchor="end" fill="#333" >100</text>
<line x1="38.2" y1="335.5" x2="40" y2="335.5" stroke="#555" stroke-width="0.8" />
<text x="37.2" y="337.3" font-size="5" stroke="#333" stroke-width="0.12" text-anchor="end" fill="#333" >10</text>
<line x1="38.2" y1="358" x2="40" y2="358" stroke="#555" stroke-width="0.8" />
<text x="37.2" y="359.8" font-size="5" stroke="#333" stroke-width="0.12" text-anchor="end" fill="#333" >1</text>
<line x1="38.2" y1="380.5" x2="40" y2="380.5" stroke="#555" stroke-width="0.8" />
<text x="37.2" y="382.3" font-size="5" stroke="#333" stroke-width="0.12" text-anchor="end" fill="#333" >0.1</text>
<line x1="40" y1="380.5" x2="110.5" y2="380.5" stroke="#555" stroke-width="1.0" />
<line x1="58" y1="380.5" x2="58" y2="382" stroke="#555" stroke-width="0.8" />
<line x1="92.8" y1="380.5" x2="92.8" y2="382" stroke="#555" stroke-width="0.8" />
<line x1="58" y1="346.5" x2="92.8" y2="344.5" stroke="#e69486" stroke-width="1.05" />
<line x1="58" y1="347.5" x2="92.8" y2="347" stroke="#e69486" stroke-width="1.05" />
<line x1="58" y1="348.3" x2="92.8" y2="348.8" stroke="#e69486" stroke-width="1.05" />
<line x1="58" y1="349.3" x2="92.8" y2="350.2" stroke="#e69486" stroke-width="1.05" />
<line x1="58" y1="350.3" x2="92.8" y2="355.8" stroke="#e69486" stroke-width="1.05" />
<line x1="58" y1="361" x2="92.8" y2="360.5" stroke="#e69486" stroke-width="1.05" />
<line x1="58" y1="347.2" x2="92.8" y2="338.5" stroke="#e69486" stroke-width="1.05" />
<line x1="58" y1="350.5" x2="92.8" y2="341.5" stroke="#e69486" stroke-width="1.05" />
<line x1="58" y1="352.8" x2="92.8" y2="327.5" stroke="#3a2e2e" stroke-width="0.95" stroke-opacity="0.85"/>
<line x1="58" y1="361.5" x2="92.8" y2="333" stroke="#3a2e2e" stroke-width="0.95" stroke-opacity="0.85"/>
<line x1="58" y1="370.5" x2="92.8" y2="341" stroke="#3a2e2e" stroke-width="0.95" stroke-opacity="0.85"/>
<line x1="58" y1="361.5" x2="92.8" y2="353" stroke="#3a2e2e" stroke-width="0.95" stroke-opacity="0.85"/>
<line x1="58" y1="361.5" x2="92.8" y2="364" stroke="#3a2e2e" stroke-width="0.95" stroke-opacity="0.85"/>
<line x1="58" y1="349.5" x2="92.8" y2="336" stroke="#3a2e2e" stroke-width="0.95" stroke-opacity="0.85"/>
<line x1="58" y1="348" x2="92.8" y2="342.5" stroke="#3a2e2e" stroke-width="0.95" stroke-opacity="0.85"/>
<circle cx="58" cy="346.5" r="0.85" fill="#b84848"/>
<circle cx="92.8" cy="344.5" r="0.95" fill="#b84848"/>
<circle cx="58" cy="347.5" r="0.85" fill="#b84848"/>
<circle cx="92.8" cy="347" r="0.95" fill="#b84848"/>
<circle cx="58" cy="348.3" r="0.85" fill="#b84848"/>
<circle cx="92.8" cy="348.8" r="0.95" fill="#b84848"/>
<circle cx="58" cy="349.3" r="0.85" fill="#b84848"/>
<circle cx="92.8" cy="350.2" r="0.95" fill="#b84848"/>
<circle cx="58" cy="350.3" r="0.85" fill="#b84848"/>
<circle cx="92.8" cy="355.8" r="0.95" fill="#b84848"/>
<circle cx="58" cy="361" r="0.85" fill="#b84848"/>
<circle cx="92.8" cy="360.5" r="0.95" fill="#b84848"/>
<circle cx="58" cy="347.2" r="0.85" fill="#b84848"/>
<circle cx="92.8" cy="338.5" r="0.95" fill="#b84848"/>
<circle cx="58" cy="350.5" r="0.85" fill="#b84848"/>
<circle cx="92.8" cy="341.5" r="0.95" fill="#b84848"/>
<circle cx="58" cy="352.8" r="0.85" fill="#222"/>
<circle cx="92.8" cy="327.5" r="0.95" fill="#222"/>
<circle cx="58" cy="361.5" r="0.85" fill="#222"/>
<circle cx="92.8" cy="333" r="0.95" fill="#222"/>
<circle cx="58" cy="370.5" r="0.85" fill="#222"/>
<circle cx="92.8" cy="341" r="0.95" fill="#222"/>
<circle cx="58" cy="361.5" r="0.85" fill="#222"/>
<circle cx="92.8" cy="353" r="0.95" fill="#222"/>
<circle cx="58" cy="361.5" r="0.85" fill="#222"/>
<circle cx="92.8" cy="364" r="0.95" fill="#222"/>
<circle cx="58" cy="349.5" r="0.85" fill="#222"/>
<circle cx="92.8" cy="336" r="0.95" fill="#222"/>
<circle cx="58" cy="348" r="0.85" fill="#222"/>
<circle cx="92.8" cy="342.5" r="0.95" fill="#222"/>
<line x1="43" y1="314.4" x2="50.3" y2="314.4" stroke="#e07a6c" stroke-width="1.0" />
<line x1="43" y1="322.75" x2="50.3" y2="322.75" stroke="#222" stroke-width="1.5" />
<text transform="translate(22.5,388.4) rotate(-90)" font-size="9" stroke="#000" stroke-width="0.22" textLength="86.5" lengthAdjust="spacingAndGlyphs">log donor/competitor</text>
<text x="53.4" y="316.9" font-size="7.6" stroke="#c8645a" stroke-width="0.18" font-style="italic" fill="#c8645a" textLength="26" lengthAdjust="spacingAndGlyphs" >Prdm16</text>
<text x="80.9" y="310.9" font-size="5" stroke="#c8645a" stroke-width="0.12" fill="#c8645a" textLength="6" lengthAdjust="spacingAndGlyphs" >+/-</text>
<text x="53.3" y="325.7" font-size="8.4" stroke="#000" stroke-width="0.2" textLength="9" lengthAdjust="spacingAndGlyphs" >Wt</text>
<text x="45.7" y="388.5" font-size="7.7" stroke="#000" stroke-width="0.26" textLength="24.8" lengthAdjust="spacingAndGlyphs" >primary</text>
<text x="76.6" y="388.5" font-size="7.7" stroke="#000" stroke-width="0.26" textLength="33.9" lengthAdjust="spacingAndGlyphs" >secondary</text>
<text x="54.6" y="397.8" font-size="9" stroke="#000" stroke-width="0.28" textLength="7.5" lengthAdjust="spacingAndGlyphs" >Tx</text>
<text x="89.8" y="397.8" font-size="9" stroke="#000" stroke-width="0.28" textLength="7.8" lengthAdjust="spacingAndGlyphs" >Tx</text>
<line x1="131.5" y1="312.3" x2="131.5" y2="380.1" stroke="#aaa" stroke-width="1.1" />
<line x1="129.7" y1="312.3" x2="131.5" y2="312.3" stroke="#888" stroke-width="0.8" />
<text x="129.2" y="313.9" font-size="4.6" stroke="#444" stroke-width="0.11" text-anchor="end" fill="#444" >1.00</text>
<line x1="129.7" y1="329.2" x2="131.5" y2="329.2" stroke="#888" stroke-width="0.8" />
<text x="129.2" y="330.8" font-size="4.6" stroke="#444" stroke-width="0.11" text-anchor="end" fill="#444" >0.75</text>
<line x1="129.7" y1="346.2" x2="131.5" y2="346.2" stroke="#888" stroke-width="0.8" />
<text x="129.2" y="347.8" font-size="4.6" stroke="#444" stroke-width="0.11" text-anchor="end" fill="#444" >0.50</text>
<line x1="129.7" y1="363.1" x2="131.5" y2="363.1" stroke="#888" stroke-width="0.8" />
<text x="129.2" y="364.7" font-size="4.6" stroke="#444" stroke-width="0.11" text-anchor="end" fill="#444" >0.25</text>
<line x1="129.7" y1="380.1" x2="131.5" y2="380.1" stroke="#888" stroke-width="0.8" />
<text x="129.2" y="381.7" font-size="4.6" stroke="#444" stroke-width="0.11" text-anchor="end" fill="#444" >0</text>
<line x1="131.5" y1="380.1" x2="160" y2="380.1" stroke="#999" stroke-width="1.0" />
<line x1="138.95" y1="320.6" x2="138.95" y2="331.5" stroke="#999" stroke-width="1.0" />
<line x1="136.49" y1="320.6" x2="141.41" y2="320.6" stroke="#999" stroke-width="1.0" />
<rect x="134.4" y="331.5" width="9.1" height="48.6" fill="#000"/>
<line x1="152.5" y1="357.5" x2="152.5" y2="365.9" stroke="#999" stroke-width="1.0" />
<line x1="150.12" y1="357.5" x2="154.88" y2="357.5" stroke="#999" stroke-width="1.0" />
<rect x="148.1" y="365.9" width="8.8" height="14.2" fill="#000"/>
<polygon points="152.5,352.5 153.12,353.85 154.59,354.02 153.5,355.03 153.79,356.48 152.5,355.76 151.21,356.48 151.5,355.03 150.41,354.02 151.88,353.85" fill="#000"/>
<text transform="translate(116.7,354) rotate(-90)" font-size="8.6" stroke="#000" stroke-width="0.21" textLength="21.2" lengthAdjust="spacingAndGlyphs">&#916; log</text>
<text transform="translate(141,385.9) rotate(-90)" font-size="7.83" stroke="#000" stroke-width="0.19" text-anchor="end" textLength="8" lengthAdjust="spacingAndGlyphs">wt</text>
<text transform="translate(155.4,416.5) rotate(-90)" font-size="8.6" stroke="#000" stroke-width="0.21" font-style="italic" textLength="27.5" lengthAdjust="spacingAndGlyphs">Prdm16</text>
<text transform="translate(151.6,389.1) rotate(-90)" font-size="3.6" stroke="#333" stroke-width="0.09" fill="#333">+/-</text>
<line x1="240" y1="311.25" x2="240" y2="378.5" stroke="#555" stroke-width="1.0" />
<line x1="238.2" y1="311.25" x2="240" y2="311.25" stroke="#555" stroke-width="0.8" />
<text x="237.2" y="313.05" font-size="5" stroke="#333" stroke-width="0.12" text-anchor="end" fill="#333" >100</text>
<line x1="238.2" y1="333.75" x2="240" y2="333.75" stroke="#555" stroke-width="0.8" />
<text x="237.2" y="335.55" font-size="5" stroke="#333" stroke-width="0.12" text-anchor="end" fill="#333" >10</text>
<line x1="238.2" y1="356.25" x2="240" y2="356.25" stroke="#555" stroke-width="0.8" />
<text x="237.2" y="358.05" font-size="5" stroke="#333" stroke-width="0.12" text-anchor="end" fill="#333" >1</text>
<line x1="238.2" y1="378.75" x2="240" y2="378.75" stroke="#555" stroke-width="0.8" />
<text x="237.2" y="380.55" font-size="5" stroke="#333" stroke-width="0.12" text-anchor="end" fill="#333" >0.1</text>
<line x1="240" y1="378.5" x2="310" y2="378.5" stroke="#555" stroke-width="1.0" />
<line x1="258" y1="378.5" x2="258" y2="380" stroke="#555" stroke-width="0.8" />
<line x1="292.8" y1="378.5" x2="292.8" y2="380" stroke="#555" stroke-width="0.8" />
<line x1="258" y1="356.4" x2="292.8" y2="333.2" stroke="#e69486" stroke-width="1.05" />
<line x1="258" y1="357.6" x2="292.8" y2="335" stroke="#e69486" stroke-width="1.05" />
<line x1="258" y1="356.4" x2="292.8" y2="352" stroke="#e69486" stroke-width="1.05" />
<line x1="258" y1="357.2" x2="292.8" y2="357" stroke="#e69486" stroke-width="1.05" />
<line x1="258" y1="358.1" x2="292.8" y2="364.5" stroke="#e69486" stroke-width="1.05" />
<line x1="258" y1="358.1" x2="292.8" y2="352.8" stroke="#e69486" stroke-width="1.05" />
<line x1="258" y1="363.6" x2="292.8" y2="354.5" stroke="#e69486" stroke-width="1.05" />
<line x1="258" y1="363.6" x2="292.8" y2="369.2" stroke="#e69486" stroke-width="1.05" />
<line x1="258" y1="368.3" x2="292.8" y2="359.5" stroke="#e69486" stroke-width="1.05" />
<line x1="258" y1="368.3" x2="292.8" y2="362" stroke="#e69486" stroke-width="1.05" />
<line x1="258" y1="357" x2="292.8" y2="367" stroke="#e69486" stroke-width="1.05" />
<line x1="258" y1="356.5" x2="292.8" y2="355.2" stroke="#e69486" stroke-width="1.05" />
<line x1="258" y1="358" x2="292.8" y2="358.5" stroke="#e69486" stroke-width="1.05" />
<line x1="258" y1="343.5" x2="292.8" y2="313.6" stroke="#3a2e2e" stroke-width="0.85" stroke-opacity="0.8"/>
<line x1="258" y1="344.5" x2="292.8" y2="318.3" stroke="#3a2e2e" stroke-width="0.85" stroke-opacity="0.8"/>
<line x1="258" y1="345.5" x2="292.8" y2="326" stroke="#3a2e2e" stroke-width="0.85" stroke-opacity="0.8"/>
<line x1="258" y1="346" x2="292.8" y2="327.2" stroke="#3a2e2e" stroke-width="0.85" stroke-opacity="0.8"/>
<line x1="258" y1="346.5" x2="292.8" y2="328.5" stroke="#3a2e2e" stroke-width="0.85" stroke-opacity="0.8"/>
<line x1="258" y1="347" x2="292.8" y2="336.7" stroke="#3a2e2e" stroke-width="0.85" stroke-opacity="0.8"/>
<line x1="258" y1="347.5" x2="292.8" y2="339" stroke="#3a2e2e" stroke-width="0.85" stroke-opacity="0.8"/>
<line x1="258" y1="348" x2="292.8" y2="341" stroke="#3a2e2e" stroke-width="0.85" stroke-opacity="0.8"/>
<line x1="258" y1="348.5" x2="292.8" y2="343" stroke="#3a2e2e" stroke-width="0.85" stroke-opacity="0.8"/>
<line x1="258" y1="349" x2="292.8" y2="345" stroke="#3a2e2e" stroke-width="0.85" stroke-opacity="0.8"/>
<line x1="258" y1="349.5" x2="292.8" y2="347" stroke="#3a2e2e" stroke-width="0.85" stroke-opacity="0.8"/>
<line x1="258" y1="350" x2="292.8" y2="349" stroke="#3a2e2e" stroke-width="0.85" stroke-opacity="0.8"/>
<line x1="258" y1="350.4" x2="292.8" y2="351" stroke="#3a2e2e" stroke-width="0.85" stroke-opacity="0.8"/>
<circle cx="258" cy="343.5" r="0.85" fill="#222"/>
<circle cx="292.8" cy="313.6" r="0.95" fill="#222"/>
<circle cx="258" cy="344.5" r="0.85" fill="#222"/>
<circle cx="292.8" cy="318.3" r="0.95" fill="#222"/>
<circle cx="258" cy="345.5" r="0.85" fill="#222"/>
<circle cx="292.8" cy="326" r="0.95" fill="#222"/>
<circle cx="258" cy="346" r="0.85" fill="#222"/>
<circle cx="292.8" cy="327.2" r="0.95" fill="#222"/>
<circle cx="258" cy="346.5" r="0.85" fill="#222"/>
<circle cx="292.8" cy="328.5" r="0.95" fill="#222"/>
<circle cx="258" cy="347" r="0.85" fill="#222"/>
<circle cx="292.8" cy="336.7" r="0.95" fill="#222"/>
<circle cx="258" cy="347.5" r="0.85" fill="#222"/>
<circle cx="292.8" cy="339" r="0.95" fill="#222"/>
<circle cx="258" cy="348" r="0.85" fill="#222"/>
<circle cx="292.8" cy="341" r="0.95" fill="#222"/>
<circle cx="258" cy="348.5" r="0.85" fill="#222"/>
<circle cx="292.8" cy="343" r="0.95" fill="#222"/>
<circle cx="258" cy="349" r="0.85" fill="#222"/>
<circle cx="292.8" cy="345" r="0.95" fill="#222"/>
<circle cx="258" cy="349.5" r="0.85" fill="#222"/>
<circle cx="292.8" cy="347" r="0.95" fill="#222"/>
<circle cx="258" cy="350" r="0.85" fill="#222"/>
<circle cx="292.8" cy="349" r="0.95" fill="#222"/>
<circle cx="258" cy="350.4" r="0.85" fill="#222"/>
<circle cx="292.8" cy="351" r="0.95" fill="#222"/>
<circle cx="258" cy="356.4" r="0.85" fill="#b84848"/>
<circle cx="292.8" cy="333.2" r="0.95" fill="#b84848"/>
<circle cx="258" cy="357.6" r="0.85" fill="#b84848"/>
<circle cx="292.8" cy="335" r="0.95" fill="#b84848"/>
<circle cx="258" cy="356.4" r="0.85" fill="#b84848"/>
<circle cx="292.8" cy="352" r="0.95" fill="#b84848"/>
<circle cx="258" cy="357.2" r="0.85" fill="#b84848"/>
<circle cx="292.8" cy="357" r="0.95" fill="#b84848"/>
<circle cx="258" cy="358.1" r="0.85" fill="#b84848"/>
<circle cx="292.8" cy="364.5" r="0.95" fill="#b84848"/>
<circle cx="258" cy="358.1" r="0.85" fill="#b84848"/>
<circle cx="292.8" cy="352.8" r="0.95" fill="#b84848"/>
<circle cx="258" cy="363.6" r="0.85" fill="#b84848"/>
<circle cx="292.8" cy="354.5" r="0.95" fill="#b84848"/>
<circle cx="258" cy="363.6" r="0.85" fill="#b84848"/>
<circle cx="292.8" cy="369.2" r="0.95" fill="#b84848"/>
<circle cx="258" cy="368.3" r="0.85" fill="#b84848"/>
<circle cx="292.8" cy="359.5" r="0.95" fill="#b84848"/>
<circle cx="258" cy="368.3" r="0.85" fill="#b84848"/>
<circle cx="292.8" cy="362" r="0.95" fill="#b84848"/>
<circle cx="258" cy="357" r="0.85" fill="#b84848"/>
<circle cx="292.8" cy="367" r="0.95" fill="#b84848"/>
<circle cx="258" cy="356.5" r="0.85" fill="#b84848"/>
<circle cx="292.8" cy="355.2" r="0.95" fill="#b84848"/>
<circle cx="258" cy="358" r="0.85" fill="#b84848"/>
<circle cx="292.8" cy="358.5" r="0.95" fill="#b84848"/>
<line x1="243" y1="313.5" x2="250.3" y2="313.5" stroke="#e07a6c" stroke-width="1.0" />
<line x1="243" y1="321.5" x2="250.3" y2="321.5" stroke="#222" stroke-width="1.5" />
<text transform="translate(221.8,390.8) rotate(-90)" font-size="9" stroke="#000" stroke-width="0.22" textLength="87" lengthAdjust="spacingAndGlyphs">log donor/competitor</text>
<text x="253.6" y="315.6" font-size="7.6" stroke="#c8645a" stroke-width="0.18" font-style="italic" fill="#c8645a" textLength="26.3" lengthAdjust="spacingAndGlyphs" >Prdm16</text>
<text x="281.2" y="310.3" font-size="5" stroke="#c8645a" stroke-width="0.12" fill="#c8645a" textLength="5.4" lengthAdjust="spacingAndGlyphs" >+/-</text>
<text x="253.4" y="324.5" font-size="8.4" stroke="#000" stroke-width="0.2" textLength="9.2" lengthAdjust="spacingAndGlyphs" >Wt</text>
<text x="245.1" y="387.1" font-size="7.7" stroke="#000" stroke-width="0.26" textLength="24.9" lengthAdjust="spacingAndGlyphs" >primary</text>
<text x="275.7" y="387.1" font-size="7.7" stroke="#000" stroke-width="0.26" textLength="34.6" lengthAdjust="spacingAndGlyphs" >secondary</text>
<text x="254.25" y="396.8" font-size="9" stroke="#000" stroke-width="0.28" textLength="7.9" lengthAdjust="spacingAndGlyphs" >Tx</text>
<text x="289.25" y="396.8" font-size="9" stroke="#000" stroke-width="0.28" textLength="7.9" lengthAdjust="spacingAndGlyphs" >Tx</text>
<line x1="334" y1="311.5" x2="334" y2="379" stroke="#aaa" stroke-width="1.1" />
<line x1="332.2" y1="311.5" x2="334" y2="311.5" stroke="#888" stroke-width="0.8" />
<text x="331.7" y="313.1" font-size="4.6" stroke="#444" stroke-width="0.11" text-anchor="end" fill="#444" >1.00</text>
<line x1="332.2" y1="328.4" x2="334" y2="328.4" stroke="#888" stroke-width="0.8" />
<text x="331.7" y="330" font-size="4.6" stroke="#444" stroke-width="0.11" text-anchor="end" fill="#444" >0.75</text>
<line x1="332.2" y1="345.6" x2="334" y2="345.6" stroke="#888" stroke-width="0.8" />
<text x="331.7" y="347.2" font-size="4.6" stroke="#444" stroke-width="0.11" text-anchor="end" fill="#444" >0.50</text>
<line x1="332.2" y1="362.3" x2="334" y2="362.3" stroke="#888" stroke-width="0.8" />
<text x="331.7" y="363.9" font-size="4.6" stroke="#444" stroke-width="0.11" text-anchor="end" fill="#444" >0.25</text>
<line x1="332.2" y1="379" x2="334" y2="379" stroke="#888" stroke-width="0.8" />
<text x="331.7" y="380.6" font-size="4.6" stroke="#444" stroke-width="0.11" text-anchor="end" fill="#444" >0</text>
<line x1="334" y1="379" x2="361.3" y2="379" stroke="#999" stroke-width="1.0" />
<line x1="340.93" y1="312.25" x2="340.93" y2="325.6" stroke="#999" stroke-width="1.0" />
<line x1="338.4" y1="312.25" x2="343.45" y2="312.25" stroke="#999" stroke-width="1.0" />
<rect x="336.25" y="325.6" width="9.35" height="53.4" fill="#000"/>
<line x1="354.7" y1="347.5" x2="354.7" y2="357.9" stroke="#999" stroke-width="1.0" />
<line x1="352.16" y1="347.5" x2="357.24" y2="347.5" stroke="#999" stroke-width="1.0" />
<rect x="350" y="357.9" width="9.4" height="21.1" fill="#000"/>
<polygon points="355,341.5 355.62,342.85 357.09,343.02 356,344.03 356.29,345.48 355,344.76 353.71,345.48 354,344.03 352.91,343.02 354.38,342.85" fill="#000"/>
<text transform="translate(318,353) rotate(-90)" font-size="8.6" stroke="#000" stroke-width="0.21" textLength="20.6" lengthAdjust="spacingAndGlyphs">&#916; log</text>
<text transform="translate(344.7,384.6) rotate(-90)" font-size="7.83" stroke="#000" stroke-width="0.19" text-anchor="end" textLength="8" lengthAdjust="spacingAndGlyphs">wt</text>
<text transform="translate(358.8,416.5) rotate(-90)" font-size="8.6" stroke="#000" stroke-width="0.21" font-style="italic" textLength="27.5" lengthAdjust="spacingAndGlyphs">Prdm16</text>
<text transform="translate(355,389.1) rotate(-90)" font-size="3.6" stroke="#333" stroke-width="0.09" fill="#333">+/-</text>
<defs>
<filter id="blur1" x="-50%" y="-80%" width="200%" height="260%"><feGaussianBlur stdDeviation="1.7"/></filter>
<filter id="blur2" x="-50%" y="-80%" width="200%" height="260%"><feGaussianBlur stdDeviation="1.1"/></filter>
<filter id="blur3" x="-50%" y="-80%" width="200%" height="260%"><feGaussianBlur stdDeviation="2.4"/></filter>
<filter id="blur05" x="-10%" y="-10%" width="120%" height="120%"><feGaussianBlur stdDeviation="0.5"/></filter>
<linearGradient id="gw" x1="0" y1="0" x2="0" y2="1"><stop offset="0" stop-color="#333"/><stop offset="0.15" stop-color="#3a3a3a"/><stop offset="1" stop-color="#434343"/></linearGradient>
<linearGradient id="gk" x1="0" y1="0" x2="0" y2="1"><stop offset="0" stop-color="#262626"/><stop offset="1" stop-color="#222"/></linearGradient>
<linearGradient id="gg" x1="0" y1="0" x2="0" y2="1"><stop offset="0" stop-color="#585858"/><stop offset="1" stop-color="#464646"/></linearGradient>
</defs>
<g filter="url(#blur05)">
<rect x="438.1" y="330.6" width="61.6" height="24" fill="url(#gw)"/>
<rect x="438.1" y="354.6" width="61.6" height="23.8" fill="url(#gk)"/>
<rect x="469" y="356" width="30.7" height="22.4" fill="#282828"/>
<rect x="438.1" y="378.4" width="61.6" height="23.9" fill="url(#gg)"/>
<line x1="438.1" y1="354.9" x2="499.7" y2="354.9" stroke="#555" stroke-width="0.9" />
<line x1="438.1" y1="378.2" x2="499.7" y2="378.2" stroke="#1c1c1c" stroke-width="0.9" />
</g>
<rect x="443.5" y="340.5" width="23" height="7.5" rx="3" fill="#7a7a7a" filter="url(#blur1)"/>
<rect x="471" y="365.2" width="24" height="8" rx="3" fill="#9a9a9a" filter="url(#blur3)"/>
<rect x="473" y="366.8" width="20.5" height="4.8" rx="2" fill="#ffffff" filter="url(#blur2)"/>
<rect x="441.5" y="385.6" width="20" height="5" rx="2" fill="#808080" filter="url(#blur1)"/>
<rect x="470.5" y="386.4" width="20.5" height="5.5" rx="2" fill="#b4b4b4" filter="url(#blur2)"/>
<rect x="438.1" y="330.6" width="61.6" height="71.7" fill="none" stroke="#1e1e1e" stroke-width="0.8"/>
<text transform="translate(450.6,328.4) rotate(-90)" font-size="10.8" stroke="#000" stroke-width="0.26" textLength="32.1" lengthAdjust="spacingAndGlyphs">CD45.1</text>
<text transform="translate(463.2,328.4) rotate(-90)" font-size="10.8" stroke="#000" stroke-width="0.26" textLength="33.6" lengthAdjust="spacingAndGlyphs">CD45.2</text>
<text transform="translate(489.9,328.4) rotate(-90)" font-size="10.8" stroke="#000" stroke-width="0.26" textLength="33.2" lengthAdjust="spacingAndGlyphs">CD45.2</text>
<polygon points="442.6,291.2 443.05,292.18 444.12,292.31 443.33,293.04 443.54,294.09 442.6,293.57 441.66,294.09 441.87,293.04 441.08,292.31 442.15,292.18" fill="#333"/>
<polygon points="455.4,291.2 455.85,292.18 456.92,292.31 456.13,293.04 456.34,294.09 455.4,293.57 454.46,294.09 454.67,293.04 453.88,292.31 454.95,292.18" fill="#333"/>
<polygon points="481.8,291.9 482.25,292.88 483.32,293.01 482.53,293.74 482.74,294.79 481.8,294.27 480.86,294.79 481.07,293.74 480.28,293.01 481.35,292.88" fill="#333"/>
<text x="420.4" y="347" font-size="9.2" stroke="#000" stroke-width="0.22" textLength="13.1" lengthAdjust="spacingAndGlyphs" >WT</text>
<text x="420.8" y="371.3" font-size="9.2" stroke="#000" stroke-width="0.22" textLength="12.7" lengthAdjust="spacingAndGlyphs" >KO</text>
<text x="402.1" y="393.8" font-size="9.5" stroke="#000" stroke-width="0.23" textLength="31.9" lengthAdjust="spacingAndGlyphs" >GAPDH</text>
</svg>
</body></html>
